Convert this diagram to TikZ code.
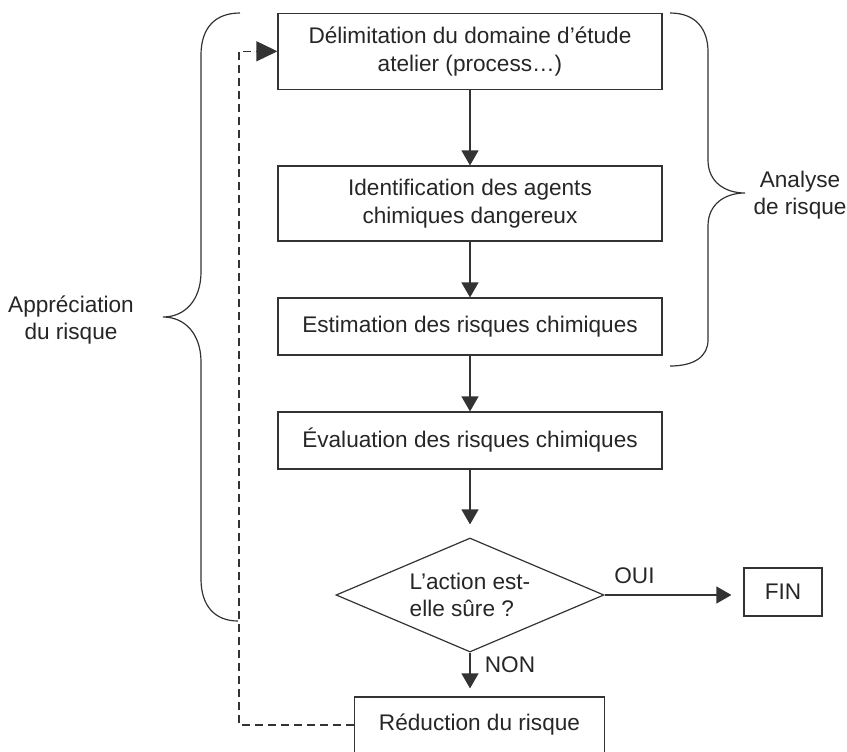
\documentclass[tikz,border=0pt]{standalone}
\usepackage{fontspec}
\setmainfont{Liberation Sans}
\usepackage{tikz}
\usetikzlibrary{calc, arrows.meta, shapes.geometric, positioning}

\begin{document}
\begin{tikzpicture}[x = 0.5pt, y = -0.5pt,
    every node/.style = {font=\fontsize{11.3}{13.8}\selectfont, text=black!85},
    boite/.style = {draw=black!80, line width=0.6pt, align=center, inner sep=0pt},
    fleche/.style = {-{Triangle[length=7.5pt,width=8.5pt]}, line width=0.6pt, draw=black!80},
    retour/.style = {-{Triangle[length=10.5pt,width=10pt]}, dash pattern=on 4pt off 2.5pt, line width=0.6pt, draw=black!80},
    accolade/.style = {line width=0.6pt, draw=black!80}]

        \useasboundingbox (0,0) rectangle (847,751);

        \node[boite, minimum width=192pt, minimum height=38pt] (delim) at (470,51.3) {Délimitation du domaine d’étude\\atelier (process…)};
        \node[boite, minimum width=192pt, minimum height=37.5pt] (ident) at (470,203.5) {Identification des agents\\chimiques dangereux};
        \node[boite, minimum width=192pt, minimum height=28.5pt] (estim) at (470,326.5) {Estimation des risques chimiques};
        \node[boite, minimum width=192pt, minimum height=28.5pt] (eval) at (470,440.5) {Évaluation des risques chimiques};
        \node[boite, diamond, aspect=2.35, minimum width=134pt, minimum height=57pt, align=left] (surete) at (470,595) {L’action est-\\elle sûre ?};
        \node[boite, minimum width=39pt, minimum height=24pt] (fin) at (783,592) {FIN};
        \node[boite, minimum width=125pt, minimum height=28pt] (reduc) at (479.5,725) {Réduction du risque};

        \foreach \a/\b in {delim/ident, ident/estim, estim/eval}
        {
            \draw[fleche] (\a) -- (\b);
        };
        \draw[fleche, shorten >=6.5pt] (eval) -- (surete);
        \draw[fleche, shorten >=6pt] (surete.east) -- (surete.east -| fin.west);
        \draw[fleche, shorten >=4pt] (surete.south) -- (surete.south |- reduc.north);
        \draw[retour] (reduc.west) -- ++(-115,0) |- (delim.west);

        \node (oui) at (634.5,576) {OUI};
        \node (non) at (510,665) {NON};

        \draw[accolade] (240,13) .. controls (215,13) and (201,28) .. (201,55)
            -- (201,272) .. controls (201,300) and (185,317) .. (163,317)
            .. controls (185,317) and (201,334) .. (201,362)
            -- (201,579) .. controls (201,606) and (215,621) .. (238,621);
        \draw[accolade] (670,13) .. controls (695,13) and (708,28) .. (708,52)
            -- (708,160) .. controls (708,182) and (725,193) .. (745,193)
            .. controls (725,193) and (708,204) .. (708,226)
            -- (708,340) .. controls (708,356) and (695,366) .. (670,366);

        \node[align=center] (apprec) at (71,320) {Appréciation\\du risque};
        \node[align=center] (analyse) at (800,195) {Analyse\\de risque};
    \end{tikzpicture}
\end{document}
